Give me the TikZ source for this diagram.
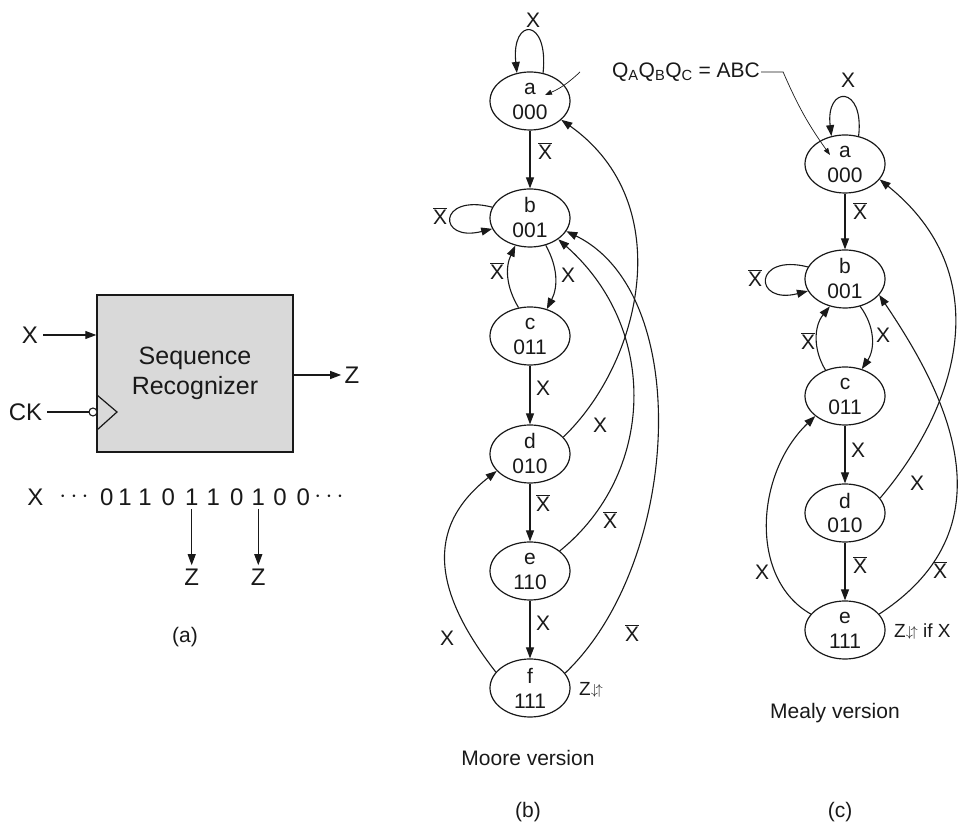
\documentclass[tikz,border=0pt]{standalone}
\usepackage{fontspec}
\setmainfont{Liberation Sans}
\usetikzlibrary{arrows.meta,shapes.geometric}

\newcommand{\nX}{$\overline{\mbox{X}}$}
\newcommand{\zud}{Z\raisebox{1pt}{\fontsize{15}{15}\selectfont$\downarrow\!\uparrow$}}

\begin{document}
\begin{tikzpicture}[x=10pt,y=10pt,color=black!90,
  >={Triangle[length=11pt,width=8pt]},
  st/.style={ellipse,draw,line width=1.2pt,minimum width=80pt,minimum height=58pt,
    inner sep=0pt,align=center,font=\fontsize{21}{25}\selectfont},
  lbl/.style={inner sep=1pt,font=\fontsize{21}{25}\selectfont},
  big/.style={font=\fontsize{24}{29}\selectfont},
  tr/.style={->,line width=1.1pt},
  note/.style={->,>={Triangle[length=7pt,width=5pt]},line width=0.7pt}]
\useasboundingbox (0,0) rectangle (96.4,82.4);

% (a) the recognizer
\node[draw,line width=1.4pt,fill=black!15,minimum width=196pt,minimum height=157pt,
  align=center,font=\fontsize{25}{30}\selectfont] (rec) at (19.5,45.05) {Sequence\\Recognizer};
\node[big,inner sep=5pt] (xin) at (3.0,48.9) {X};
\node[big,inner sep=5pt] (ck) at (2.55,41.2) {CK};
\node[big] (zout) at (35.2,44.9) {Z};
\draw[tr] (xin) -- (xin -| rec.west);
\draw[line width=1.1pt] (ck) -- (9.0,41.2);
\draw[line width=1.2pt] (9.7,42.9) -- (11.7,41.2) -- (9.7,39.4);
\node[circle,draw,fill=white,line width=1.1pt,minimum size=8pt,inner sep=0pt] (bub) at (9.3,41.2) {};
\draw[tr] (zout -| rec.east) -- (zout);

\node[big] (sx) at (3.55,32.7) {X};
\node[big] (sl) at (7.4,32.7) {$\cdots$};
\foreach \b/\x [count=\i] in {0/10.67,1/12.5,1/14.5,0/16.83,1/19.17,1/21.33,0/23.67,1/25.83,0/28.0,0/30.33}
  \node[big] (s\i) at (\x,32.7) {\b};
\node[big] (sr) at (32.9,32.7) {$\cdots$};
\node[big] (z1) at (19.17,24.7) {Z};
\node[big] (z2) at (25.83,24.7) {Z};
\draw[tr] (s5) -- (z1);
\draw[tr] (s8) -- (z2);
\node[lbl] (capa) at (18.5,18.7) {(a)};

% (b) Moore
\node[st] (ma) at (53.0,72.3) {a\\000};
\node[st] (mb) at (53.0,60.6) {b\\001};
\node[st] (mc) at (53.0,48.8) {c\\011};
\node[st] (md) at (53.0,37.0) {d\\010};
\node[st] (me) at (53.0,25.3) {e\\110};
\node[st] (mf) at (53.0,13.6) {f\\111};

\draw[tr] (ma.65) .. controls +(0.6,5.6) and +(-0.6,5.6) .. (ma.115);
\draw[tr] (ma) -- (mb);
\draw[tr] (mb.164) .. controls +(-5.5,1.4) and +(-5.5,-1.4) .. (mb.196);
\draw[tr] (mb.-60) to[bend left=28] (mc.58);
\draw[tr] (mc.112) to[bend left=28] (mb.-118);
\draw[tr] (mc) -- (md);
\draw[tr] (md) -- (me);
\draw[tr] (me) -- (mf);
\draw[tr] (md.27) .. controls (64,46) and (68,62) .. (ma.-31);
\draw[tr] (me.34) .. controls (65.5,35) and (66,49.5) .. (mb.-37);
\draw[tr] (mf.23) .. controls (68,26) and (69.5,53) .. (mb.-20);
\draw[tr] (mf.155) .. controls (43.5,23) and (42.3,29.5) .. (md.-153);

\node[lbl] (m1) at (53.3,80.4) {X};
\node[lbl] (m2) at (54.5,67.3) {\nX};
\node[lbl] (m3) at (44.0,60.8) {\nX};
\node[lbl] (m4) at (56.8,54.9) {X};
\node[lbl] (m5) at (49.7,55.3) {\nX};
\node[lbl] (m6) at (54.3,43.6) {X};
\node[lbl] (m7) at (54.3,32.1) {\nX};
\node[lbl] (m8) at (54.3,20.1) {X};
\node[lbl] (m9) at (44.7,18.6) {X};
\node[lbl] (m10) at (60.0,39.9) {X};
\node[lbl] (m11) at (61.0,30.4) {\nX};
\node[lbl] (m12) at (63.2,19.1) {\nX};
\node[lbl,anchor=west,font=\fontsize{19}{23}\selectfont] (mz) at (57.8,13.4) {\zud};
\node[lbl] (mcap) at (52.8,6.6) {Moore version};
\node[lbl] (capb) at (52.8,1.2) {(b)};

% state code note
\node[lbl] (qabc) at (68.6,75.2) {Q\textsubscript{A}Q\textsubscript{B}Q\textsubscript{C} = ABC};
\coordinate (mhook) at (58.0,75.2);
\coordinate (mtip) at (54.5,72.9);
\coordinate (ntip) at (83.0,66.9);
\draw[note] (mhook) to[bend left=10] (mtip);
\draw[note] (qabc.east) -- ++(2.2,0) to[bend right=6] (ntip);

% (c) Mealy
\node[st] (na) at (84.5,66.0) {a\\000};
\node[st] (nb) at (84.5,54.5) {b\\001};
\node[st] (nc) at (84.5,42.8) {c\\011};
\node[st] (nd) at (84.5,31.1) {d\\010};
\node[st] (ne) at (84.5,19.4) {e\\111};

\draw[tr] (na.64) .. controls +(0.6,5.1) and +(-0.6,5.1) .. (na.116);
\draw[tr] (na) -- (nb);
\draw[tr] (nb.162) .. controls +(-5.5,1.4) and +(-5.5,-1.4) .. (nb.198);
\draw[tr] (nb.-61) to[bend left=35] (nc.58);
\draw[tr] (nc.127) to[bend left=35] (nb.-119);
\draw[tr] (nc) -- (nd);
\draw[tr] (nd) -- (ne);
\draw[tr] (nd.23) .. controls (96,42) and (99.7,55) .. (na.-24);
\draw[tr] (ne.25) .. controls (101.9,30.1) and (93.9,44) .. (nb.-25);
\draw[tr] (ne.155) .. controls (74.9,24.5) and (75.5,35) .. (nc.-146);

\node[lbl] (n1) at (84.8,74.4) {X};
\node[lbl] (n2) at (86.0,61.3) {\nX};
\node[lbl] (n3) at (75.5,54.6) {\nX};
\node[lbl] (n4) at (88.3,48.9) {X};
\node[lbl] (n5) at (80.8,48.3) {\nX};
\node[lbl] (n6) at (85.8,37.4) {X};
\node[lbl] (n7) at (91.7,34.1) {X};
\node[lbl] (n8) at (86.0,25.9) {\nX};
\node[lbl] (n9) at (76.2,25.2) {X};
\node[lbl] (n10) at (94.0,25.4) {\nX};
\node[lbl,anchor=west,font=\fontsize{19}{23}\selectfont] (nz) at (89.3,19.2) {\zud{} if X};
\node[lbl] (ncap) at (83.5,11.1) {Mealy version};
\node[lbl] (capc) at (84.0,1.2) {(c)};
\end{tikzpicture}
\end{document}
